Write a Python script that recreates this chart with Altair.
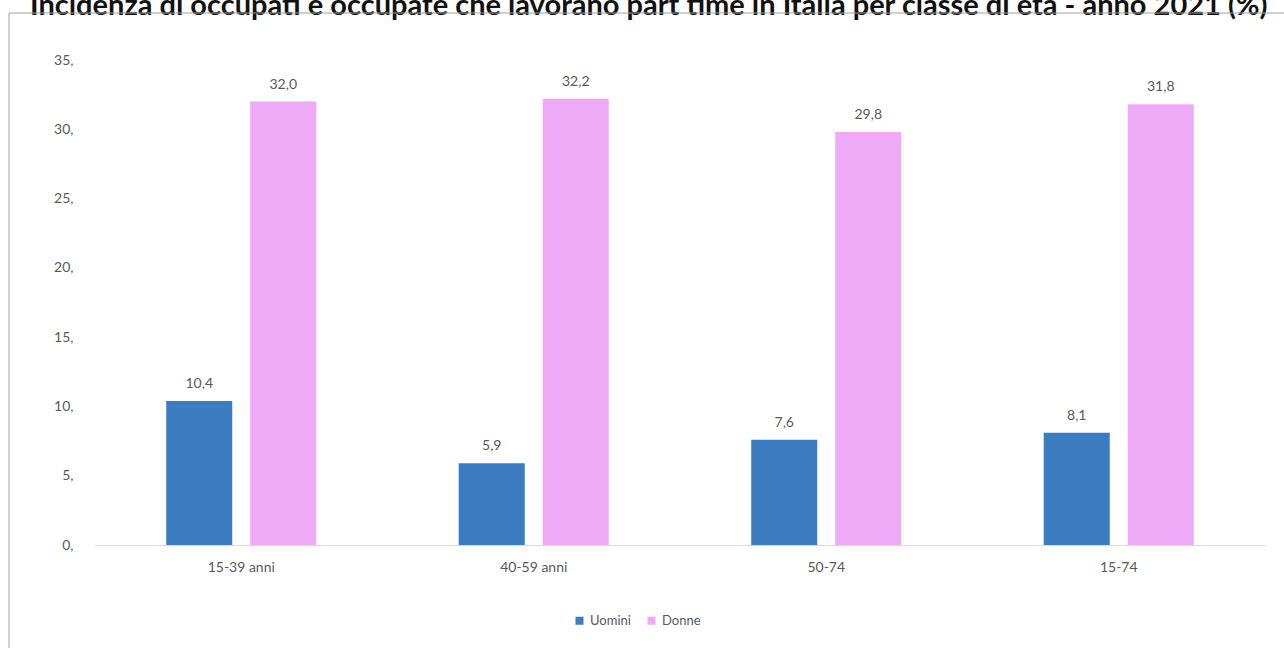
import altair as alt
import pandas as pd

categories = ["15-39 anni", "40-59 anni", "50-74", "15-74"]
uomini = [10.4, 5.9, 7.6, 8.1]
donne = [32.0, 32.2, 29.8, 31.8]
series = ["Uomini", "Donne"]
colors = ["#3B7DC0", "#EEAAF6"]
y_ticks = [0, 5, 10, 15, 20, 25, 30, 35]
title_text = ("Incidenza di occupati e occupate che lavorano part time in Italia "
              "per classe di età - anno 2021 (%)")

rows = []
for c, u, d in zip(categories, uomini, donne):
    rows.append({"cat": c, "serie": "Uomini", "val": u, "label": f"{u:.1f}".replace(".", ",")})
    rows.append({"cat": c, "serie": "Donne", "val": d, "label": f"{d:.1f}".replace(".", ",")})
df = pd.DataFrame(rows)

W, H = 1170, 485
PAD = {"left": 95, "top": 60, "right": 19, "bottom": 103}
FONT = "Lato"
GRAY = "#595959"

base = alt.Chart(df).encode(
    x=alt.X("cat:N", sort=categories,
            scale=alt.Scale(paddingInner=0.487, paddingOuter=0.2435),
            axis=alt.Axis(title=None, labelAngle=0, ticks=False, domainColor="#D9D9D9",
                          domainWidth=1, labelPadding=15, labelFontSize=14,
                          labelColor=GRAY, labelFont=FONT)),
    xOffset=alt.XOffset("serie:N", sort=series,
                        scale=alt.Scale(paddingInner=0.214, paddingOuter=0)),
    y=alt.Y("val:Q", scale=alt.Scale(domain=[0, 35], nice=False),
            axis=alt.Axis(title=None, values=y_ticks, labelExpr="datum.value + ','",
                          grid=False, domain=False, ticks=False, labelPadding=22,
                          labelFontSize=14, labelColor=GRAY, labelFont=FONT)),
)

bars = base.mark_bar().encode(
    color=alt.Color("serie:N", sort=series,
                    scale=alt.Scale(domain=series, range=colors),
                    legend=alt.Legend(title=None, orient="none", legendX=478, legendY=554,
                                      direction="horizontal", symbolType="square",
                                      symbolSize=64, symbolStrokeWidth=0,
                                      labelFontSize=13, labelColor=GRAY, labelFont=FONT,
                                      columnPadding=14, labelOffset=4))
)

labels = base.mark_text(dy=-10, baseline="bottom", fontSize=14, color=GRAY, font=FONT).encode(
    text="label:N"
)

deco = alt.Chart(pd.DataFrame({"k": [0]}))
title = deco.mark_text(align="left", baseline="alphabetic", fontSize=29, fontWeight="bold",
                       color="#111111", font=FONT).encode(
    x=alt.value(-65), y=alt.value(-45), text=alt.value(title_text))
frame_top = deco.mark_rule(color="#A0A0A0", strokeWidth=1).encode(
    x=alt.value(-86), x2=alt.value(W + 19), y=alt.value(-47))
frame_left = deco.mark_rule(color="#A0A0A0", strokeWidth=1).encode(
    x=alt.value(-86), y=alt.value(-47), y2=alt.value(H + 103))

chart = alt.layer(bars, labels, title, frame_top, frame_left).properties(
    width=W, height=H, padding=PAD,
    autosize=alt.AutoSizeParams(type="none"),
    background="white",
).configure_view(stroke=None)

chart.save("out.html", embed_options={"renderer": "svg", "actions": False})
